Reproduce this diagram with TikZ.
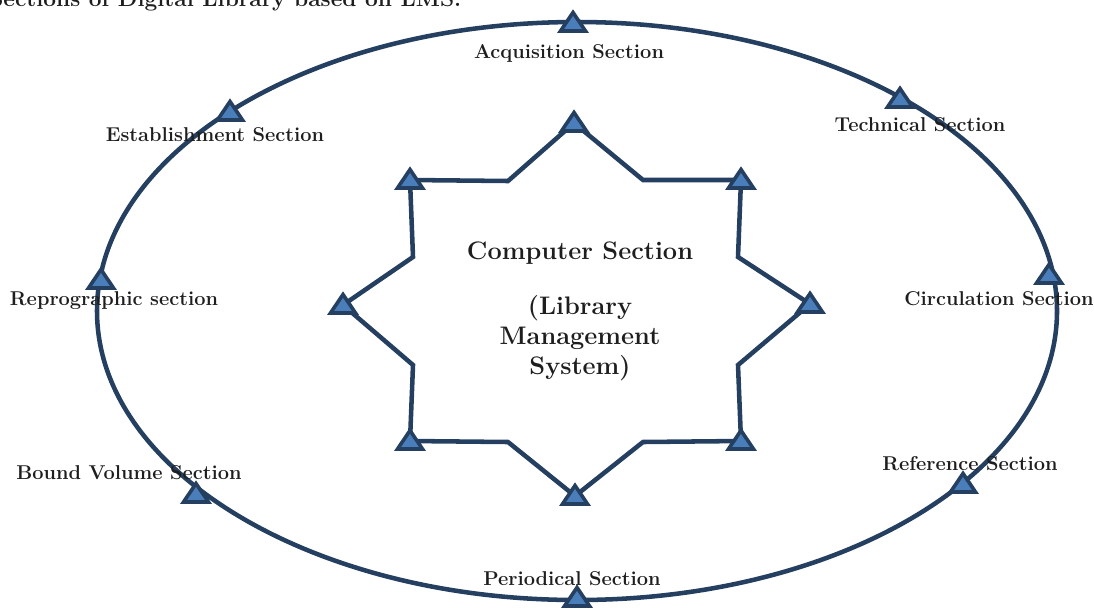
\documentclass[tikz,border=0pt]{standalone}
\usepackage{fontspec}
\definecolor{navy}{RGB}{36,63,96}
\definecolor{trifill}{RGB}{74,126,187}
\definecolor{txt}{RGB}{30,30,30}
\begin{document}
\begin{tikzpicture}[x=0.75pt,y=-0.75pt,
  ring/.style={draw=navy,line width=3.4pt},
  starline/.style={draw=navy,line width=3.4pt,line join=miter},
  lbl/.style={font=\fontsize{15}{18}\selectfont\bfseries,text=txt,inner sep=0pt},
  big/.style={font=\fontsize{19}{22.5}\selectfont\bfseries,text=txt,inner sep=0pt,align=center},
  tri/.pic={\draw[fill=trifill,draw=navy,line width=2.7pt,line join=miter,miter limit=10]
     (-12.5,8) -- (0,-10.5) -- (12.5,8) -- cycle;}]
\useasboundingbox (0,0) rectangle (1094,608);
\clip (0,0) rectangle (1094,608);
% heading (cut at top in the reference)
\node[anchor=base west,font=\fontsize{17}{20}\selectfont\bfseries,text=txt,inner sep=0pt] (head) at (-11,6) {Sections of Digital Library based on LMS.};
% outer ring
\coordinate (c) at (577,311);
\draw[ring] (c) ellipse [x radius=480, y radius=289];
% markers on the ring
\coordinate (acq) at (573,23);
\coordinate (tec) at (900,99);
\coordinate (cir) at (1049,275);
\coordinate (ref) at (963,484);
\coordinate (per) at (577,598);
\coordinate (bou) at (196,494);
\coordinate (rep) at (101,280);
\coordinate (est) at (230,112);
\foreach \p in {acq,tec,cir,ref,per,bou,rep,est} \pic at (\p) {tri};
% star
\coordinate (s1) at (574,123);
\coordinate (i1) at (643,180);
\coordinate (s2) at (741,180);
\coordinate (i2) at (738,257);
\coordinate (s3) at (810,304);
\coordinate (i3) at (738,365);
\coordinate (s4) at (741,441);
\coordinate (i4) at (643,442);
\coordinate (s5) at (575,496);
\coordinate (i5) at (508,442);
\coordinate (s6) at (410,441);
\coordinate (i6) at (413,365);
\coordinate (s7) at (343,305);
\coordinate (i7) at (413,257);
\coordinate (s8) at (410,180);
\coordinate (i8) at (508,181);
\draw[starline] (s1) -- (i1) -- (s2) -- (i2) -- (s3) -- (i3) -- (s4) -- (i4) -- (s5) -- (i5) -- (s6) -- (i6) -- (s7) -- (i7) -- (s8) -- (i8) -- cycle;
\foreach \p in {s1,s2,s3,s4,s5,s6,s7,s8} \pic at (\p) {tri};
% labels
\node[lbl] (lacq) at (569,53) {Acquisition Section};
\node[lbl] (ltec) at (920,125) {Technical Section};
\node[lbl] (lcir) at (999,299) {Circulation Section};
\node[lbl] (lref) at (970,464) {Reference Section};
\node[lbl] (lper) at (572,579) {Periodical Section};
\node[lbl] (lbou) at (129,473) {Bound Volume Section};
\node[lbl] (lrep) at (114,301) {Reprographic section};
\node[lbl] (lest) at (215,135) {Establishment Section};
\node[big] (comp) at (580,253) {Computer Section};
\node[big] (lms) at (580,338) {(Library\\Management\\System)};
\end{tikzpicture}
\end{document}
